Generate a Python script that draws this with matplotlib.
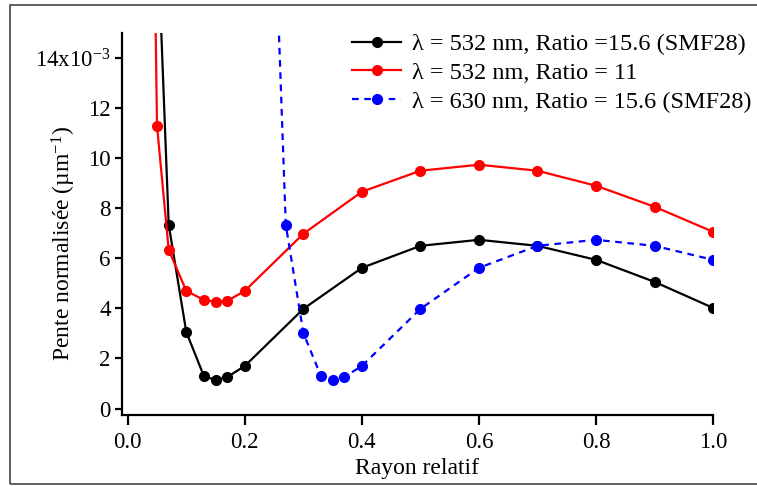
import matplotlib
matplotlib.use("Agg")
import matplotlib.pyplot as plt
from matplotlib.patches import Rectangle

plt.rcParams['font.family'] = ['Liberation Serif', 'DejaVu Serif']
plt.rcParams['mathtext.default'] = 'regular'

# valeurs (unites de 1e-3 um^-1)
x_noir = [0.05, 0.07, 0.10, 0.13, 0.15, 0.17, 0.20, 0.30, 0.40, 0.50, 0.60, 0.70, 0.80, 0.90, 1.00]
y_noir = [19.5, 7.34, 3.06, 1.30, 1.14, 1.26, 1.70, 3.98, 5.62, 6.50, 6.74, 6.50, 5.94, 5.06, 4.02]

x_rouge = [0.04, 0.05, 0.07, 0.10, 0.13, 0.15, 0.17, 0.20, 0.30, 0.40, 0.50, 0.60, 0.70, 0.80, 0.90, 1.00]
y_rouge = [28.0, 11.3, 6.34, 4.70, 4.34, 4.26, 4.30, 4.70, 6.98, 8.66, 9.50, 9.74, 9.50, 8.90, 8.06, 7.06]

x_bleu = [0.25, 0.27, 0.30, 0.33, 0.35, 0.37, 0.40, 0.50, 0.60, 0.70, 0.80, 0.90, 1.00]
y_bleu = [20.4, 7.34, 3.02, 1.30, 1.14, 1.26, 1.70, 3.98, 5.62, 6.50, 6.74, 6.50, 5.94]

etiquettes = ["λ = 532 nm, Ratio =15.6 (SMF28)",
              "λ = 532 nm, Ratio = 11",
              "λ = 630 nm, Ratio = 15.6 (SMF28)"]

yticks = [0, 2, 4, 6, 8, 10, 12, 14]
ytick_labels = ["0", "2", "4", "6", "8", "10", "12", r"14x10$^{-3}$"]
xticks = [0.0, 0.2, 0.4, 0.6, 0.8, 1.0]

fig = plt.figure(figsize=(7.57, 4.86), dpi=100)
ax = fig.add_axes([0.161, 0.146, 0.781, 0.786])

ax.plot(x_noir, y_noir, color="black", marker="o", markersize=7, linewidth=1.6, label=etiquettes[0])
ax.plot(x_rouge, y_rouge, color="red", marker="o", markersize=7, linewidth=1.6, label=etiquettes[1])
ax.plot(x_bleu, y_bleu, color="blue", marker="o", markersize=7, linewidth=1.6,
        linestyle=(0, (3, 2.5)), label=etiquettes[2])

ax.set_xlim(-0.01, 1.0)
ax.set_ylim(-0.26, 15.0)
ax.set_xticks(xticks)
ax.set_xticklabels([f"{v:.1f}" for v in xticks])
ax.set_yticks(yticks)
ax.set_yticklabels(ytick_labels)

for s in ["top", "right"]:
    ax.spines[s].set_visible(False)
for s in ["left", "bottom"]:
    ax.spines[s].set_linewidth(1.6)
ax.tick_params(axis="both", direction="out", width=1.6, labelsize=16.5)
ax.tick_params(axis="y", length=5, pad=3)
ax.tick_params(axis="x", length=7, pad=5)

ax.set_xlabel("Rayon relatif", fontsize=17, labelpad=4)
ax.set_ylabel(r"Pente normalisée (µm$^{-1}$)", fontsize=17)
ax.yaxis.set_label_coords(-0.074, 0.45)

ax.legend(loc="upper right", bbox_to_anchor=(1.065, 1.0), frameon=False, fontsize=17.5,
          handlelength=2.0, handletextpad=0.45, labelspacing=0.28, borderaxespad=0, borderpad=0)

# cadre autour de la figure
fig.patches.append(Rectangle((10 / 757, 2 / 486), 1.0, 1 - 7 / 486, transform=fig.transFigure,
                             fill=False, edgecolor="#444444", linewidth=1.2))

plt.savefig("out.png", dpi=100)
plt.close()
